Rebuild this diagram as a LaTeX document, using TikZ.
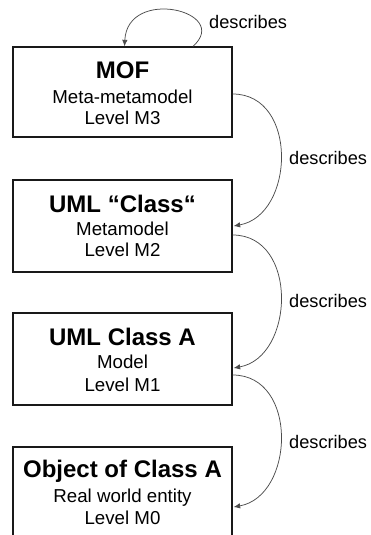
\documentclass[tikz,border=0pt]{standalone}
\usepackage{fontspec}
\setmainfont{Liberation Sans}
\usetikzlibrary{arrows.meta}
\begin{document}
\begin{tikzpicture}[x=1pt,y=-1pt,
  levelbox/.style={draw=black!90,line width=1.3pt,minimum width=219pt,inner sep=0pt},
  title/.style={anchor=base,font=\fontsize{24}{28}\selectfont\bfseries,inner sep=0pt},
  sub/.style={anchor=base,font=\fontsize{18.7}{22}\selectfont,inner sep=0pt},
  lbl/.style={anchor=base west,font=\fontsize{18.2}{22}\selectfont,inner sep=0pt},
  rel/.style={draw=black!70,line width=0.75pt,-{Latex[length=6.5pt,width=5.5pt]}}]
\useasboundingbox (0,0) rectangle (370,535);
\clip (0,0) rectangle (370,535);

% level boxes
\node[levelbox,minimum height=90pt] (mof) at (122.5,92) {};
\node[levelbox,minimum height=92pt] (uml) at (122.5,226) {};
\node[levelbox,minimum height=92pt] (cls) at (122.5,359) {};
\node[levelbox,minimum height=98pt] (obj) at (122.5,496) {};

% box texts
\node[title] (mofT) at (122.5,78) {MOF};
\node[sub] (mofA) at (122.5,103) {Meta-metamodel};
\node[sub] (mofB) at (122.5,124) {Level M3};

\node[title] (umlT) at (122.5,212) {UML “Class“};
\node[sub] (umlA) at (122.5,235) {Metamodel};
\node[sub] (umlB) at (122.5,256) {Level M2};

\node[title] (clsT) at (122.5,345) {UML Class A};
\node[sub] (clsA) at (122.5,368) {Model};
\node[sub] (clsB) at (122.5,391) {Level M1};

\node[title] (objT) at (122.5,477) {Object of Class A};
\node[sub] (objA) at (122.5,502) {Real world entity};
\node[sub] (objB) at (122.5,524) {Level M0};

% connector labels
\node[lbl] (d0) at (209,29) {describes};
\node[lbl] (d1) at (289,164) {describes};
\node[lbl] (d2) at (289,307) {describes};
\node[lbl] (d3) at (289,448) {describes};

% "describes" relations
\draw[rel] ([xshift=70.5pt]mof.north) .. controls +(39,-35) and +(3,-60) .. ([xshift=2pt]mof.north);
\draw[rel] ([yshift=-2pt]mof.east) .. controls +(66,0) and +(61,-11) .. ([xshift=1pt]uml.east);
\draw[rel] ([yshift=-9pt]uml.east) .. controls +(66,0) and +(61,-11) .. ([xshift=1pt,yshift=-9pt]cls.east);
\draw[rel] ([yshift=-16pt]cls.east) .. controls +(66,0) and +(61,-11) .. ([xshift=1pt,yshift=-11pt]obj.east);
\end{tikzpicture}
\end{document}
